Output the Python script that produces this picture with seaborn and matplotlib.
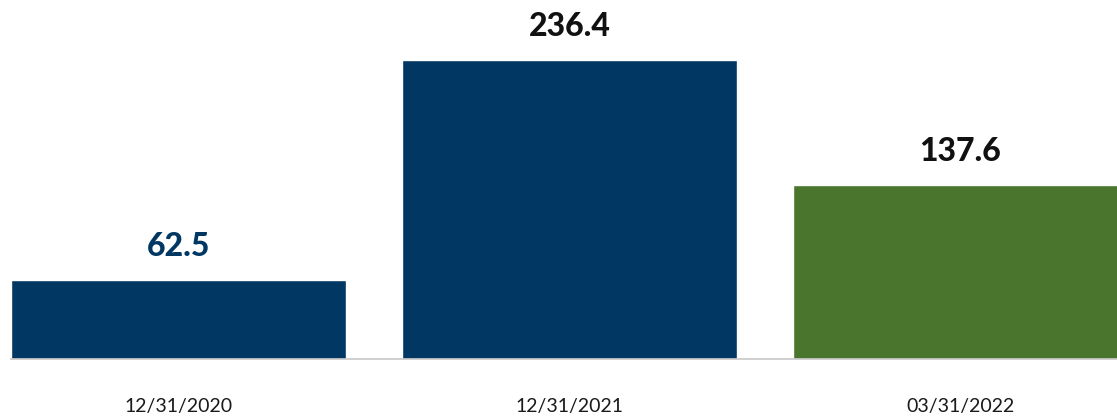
import matplotlib
matplotlib.use("Agg")
import matplotlib.pyplot as plt
import seaborn as sns
import pandas as pd

dates = ["12/31/2020", "12/31/2021", "03/31/2022"]
values = [62.5, 236.4, 137.6]
bar_colors = ["#003763", "#003763", "#4a752c"]
label_colors = ["#003763", "#111111", "#111111"]

df = pd.DataFrame({"date": dates, "value": values})

sns.set_theme(style="white")
plt.rcParams["font.family"] = ["Lato", "DejaVu Sans"]

fig = plt.figure(figsize=(11.17, 4.17), dpi=100)
# axes spans from bar-left edge to the right border, baseline at y=359px
ax = fig.add_axes([11 / 1117, (417 - 359) / 417, 1 - 11 / 1117, 359 / 417])

sns.barplot(data=df, x="date", y="value", hue="date", palette=bar_colors,
            legend=False, width=335 / 391, saturation=1, ax=ax)

# value labels above bars
for i, (v, c) in enumerate(zip(values, label_colors)):
    ax.annotate(f"{v:.1f}", (i, v), xytext=(0, 24), textcoords="offset points",
                ha="center", va="center", fontsize=23, fontweight="black", color=c)

ax.set_xlim(-335 / 391 / 2, (1117 - 178.5) / 391)
ax.set_ylim(0, 236.4 * 359 / 299)

for s in ["top", "right", "left"]:
    ax.spines[s].set_visible(False)
ax.spines["bottom"].set_color("#c8c8c8")
ax.spines["bottom"].set_linewidth(1.2)

ax.set_yticks([])
ax.set_xlabel("")
ax.set_ylabel("")
ax.tick_params(axis="x", length=0, pad=28, labelsize=14, labelcolor="#1a1a1a")

fig.savefig("out.png", dpi=100)
